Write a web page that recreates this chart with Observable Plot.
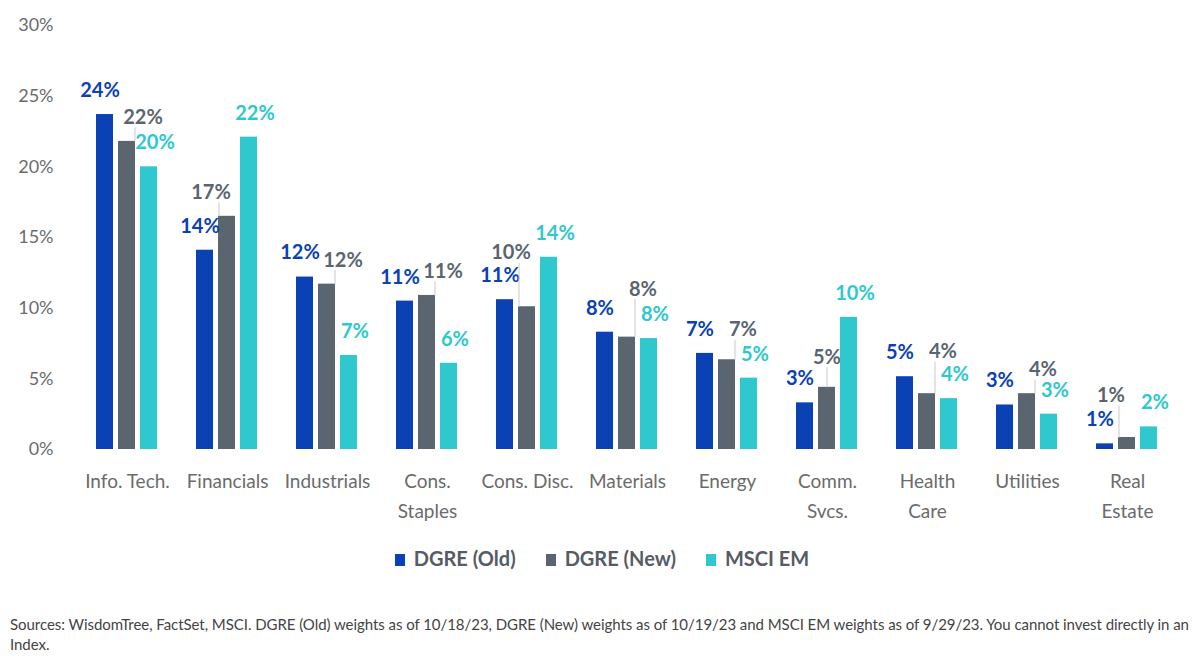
<!DOCTYPE html>
<html>
<head>
<meta charset="utf-8">
<script src="https://cdn.jsdelivr.net/npm/d3@7"></script>
<script src="https://cdn.jsdelivr.net/npm/@observablehq/plot@0.6"></script>
<style>
  html, body { margin: 0; padding: 0; background: #fff; }
  #wrap { position: relative; width: 1200px; height: 660px; background: #fff; font-family: Lato, "Noto Sans", sans-serif; }
  #chart svg { display: block; }
  .legend { position: absolute; top: 546px; left: 0; width: 1204px; display: flex; justify-content: center; gap: 30px; font-size: 20px; font-weight: 700; color: #555c66; }
  .legend .item { display: flex; align-items: center; }
  .legend .sw { display: inline-block; width: 10px; height: 12px; margin-right: 9px; margin-top: 4px; }
  .footer { position: absolute; top: 614px; left: 10px; font-size: 15px; line-height: 20px; color: #444; white-space: nowrap; letter-spacing: -0.05px; }
</style>
</head>
<body>
<div id="wrap">
  <div id="chart"></div>
  <div class="legend" id="legend"></div>
  <div class="footer">Sources: WisdomTree, FactSet, MSCI. DGRE (Old) weights as of 10/18/23, DGRE (New) weights as of 10/19/23 and MSCI EM weights as of 9/29/23. You cannot invest directly in an<br>Index.</div>
</div>
<script>
// ---- data ----
const categories = ["Info. Tech.", "Financials", "Industrials", "Cons.\nStaples", "Cons. Disc.", "Materials", "Energy", "Comm.\nSvcs.", "Health\nCare", "Utilities", "Real\nEstate"];
const seriesNames = ["DGRE (Old)", "DGRE (New)", "MSCI EM"];
const dgreOld = [23.7, 14.1, 12.2, 10.5, 10.6, 8.3, 6.8, 3.3, 5.15, 3.15, 0.4];
const dgreNew = [21.8, 16.5, 11.7, 10.9, 10.1, 7.95, 6.35, 4.4, 3.95, 3.95, 0.85];
const msciEm  = [20.0, 22.1, 6.65, 6.1, 13.6, 7.85, 5.05, 9.35, 3.6, 2.5, 1.6];
const oldLabels  = ["24%", "14%", "12%", "11%", "11%", "8%", "7%", "3%", "5%", "3%", "1%"];
const newLabels  = ["22%", "17%", "12%", "11%", "10%", "8%", "7%", "5%", "4%", "4%", "1%"];
const msciLabels = ["20%", "22%", "7%", "6%", "14%", "8%", "5%", "10%", "4%", "3%", "2%"];
const yTicks = [0, 5, 10, 15, 20, 25, 30];
const colors = ["#0a41b5", "#5a6570", "#2ec8ce"];

// ---- layout ----
const W = 1200, H = 530, MT = 25, MB = 81, ML = 77, MR = 23;
const YMAX = 30;
const plotH = H - MT - MB;
const yPx = v => MT + plotH * (1 - v / YMAX);
const pxToV = px => YMAX * (1 - (px - MT) / plotH);

const rows = categories.flatMap((cat, i) => [
  {cat, series: seriesNames[0], value: dgreOld[i], label: oldLabels[i]},
  {cat, series: seriesNames[1], value: dgreNew[i], label: newLabels[i]},
  {cat, series: seriesNames[2], value: msciEm[i], label: msciLabels[i]}
]);

// label placement for the middle series (avoid overlaps with neighbours)
const step = 22.5, bw = 17.5, oldDx = -5, msciDx = 6, baseDy = -24;
const textW = s => 11.6 * (s.length - 1) + 14.6;
const newRows = categories.map((cat, i) => {
  const labs = [
    {cx: -step + oldDx, cy: yPx(dgreOld[i]) + baseDy, w: textW(oldLabels[i])},
    {cx: step + msciDx, cy: yPx(msciEm[i]) + baseDy, w: textW(msciLabels[i])}
  ];
  const bars = [
    {x1: -step - bw / 2, x2: -step + bw / 2, top: yPx(dgreOld[i])},
    {x1: step - bw / 2, x2: step + bw / 2, top: yPx(msciEm[i])}
  ];
  const w = textW(newLabels[i]);
  const base = yPx(dgreNew[i]) + baseDy;
  let pick = null;
  outer: for (let k = 0; k < 25; k++) {
    for (const dx of [0, 16, -16]) {
      const cy = base - 6 * k, x1 = dx - w / 2, x2 = dx + w / 2;
      let ok = true;
      for (const l of labs) {
        const lx1 = l.cx - l.w / 2, lx2 = l.cx + l.w / 2;
        if (x1 - 3 < lx2 && lx1 - 3 < x2 && Math.abs(cy - l.cy) < 20) ok = false;
      }
      for (const b of bars) {
        if (x1 < b.x2 && b.x1 < x2 && cy + 9 > b.top) ok = false;
      }
      if (ok) { pick = {dx, cy, moved: k > 0 || dx !== 0}; break outer; }
    }
  }
  return {cat, series: seriesNames[1], value: dgreNew[i], label: newLabels[i],
          dx: pick.dx, ly: pxToV(pick.cy), lineEnd: pxToV(pick.cy + 10), moved: pick.moved};
});

const common = {fx: "cat", x: "series", fontWeight: 700, fontSize: 20};
const marks = [
  Plot.barY(rows, {fx: "cat", x: "series", y: "value", fill: "series"}),
  Plot.text(rows.filter(d => d.series === seriesNames[0]), {...common, y: "value", text: "label", dy: baseDy, dx: oldDx, fill: colors[0]}),
  Plot.text(rows.filter(d => d.series === seriesNames[2]), {...common, y: "value", text: "label", dy: baseDy, dx: msciDx, fill: colors[2]})
];
for (const dx of [0, 16, -16]) {
  const sub = newRows.filter(d => d.dx === dx);
  marks.push(Plot.link(sub.filter(d => d.moved), {fx: "cat", x1: "series", x2: "series", y1: "value", y2: "lineEnd", dx: dx / 2, stroke: "#c9c9c9", strokeWidth: 1}));
  marks.push(Plot.text(sub, {...common, y: "ly", text: "label", dx, fill: colors[1]}));
}
marks.push(Plot.axisY({ticks: yTicks, tickFormat: d => d + "%", tickSize: 0, tickPadding: 24, fontSize: 18, fill: "#6b6b6b", label: null}));
marks.push(Plot.axisFx({anchor: "bottom", tickSize: 0, tickPadding: 17, fontSize: 19, lineHeight: 1.58, fill: "#6b6b6b", label: null}));

const chart = Plot.plot({
  width: W, height: H,
  marginTop: MT, marginBottom: MB, marginLeft: ML, marginRight: MR,
  style: {fontFamily: "Lato, 'Noto Sans', sans-serif", background: "#fff", overflow: "visible"},
  fx: {domain: categories, padding: 0, label: null},
  x: {domain: seriesNames, paddingInner: 0.22, paddingOuter: 0.83, axis: null},
  y: {domain: [0, YMAX], axis: null},
  color: {domain: seriesNames, range: colors},
  marks
});
document.getElementById("chart").appendChild(chart);

const legend = document.getElementById("legend");
seriesNames.forEach((s, i) => {
  const item = document.createElement("div");
  item.className = "item";
  const sw = document.createElement("span");
  sw.className = "sw";
  sw.style.background = colors[i];
  const t = document.createElement("span");
  t.textContent = s;
  item.appendChild(sw);
  item.appendChild(t);
  legend.appendChild(item);
});
</script>
</body>
</html>
